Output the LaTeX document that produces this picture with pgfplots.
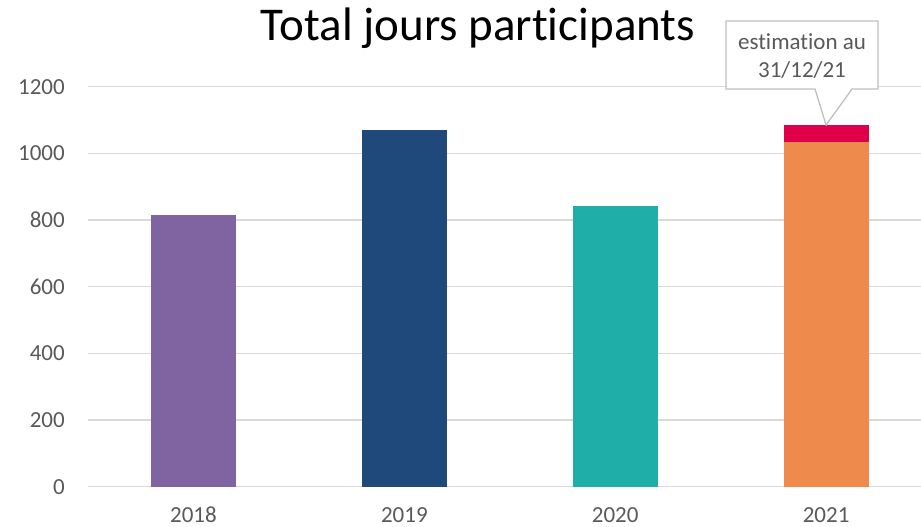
\documentclass[border=0pt]{standalone}
\usepackage{fontspec}
\setmainfont[Ligatures=NoCommon]{Carlito}
\usepackage{pgfplots}
\pgfplotsset{compat=1.18}
\definecolor{cpurple}{HTML}{8064A2}
\definecolor{cnavy}{HTML}{1F497B}
\definecolor{cteal}{HTML}{20AEA8}
\definecolor{corange}{HTML}{EF8A4D}
\definecolor{cred}{HTML}{E0004A}
\definecolor{cgrid}{HTML}{D9D9D9}
\definecolor{ctext}{HTML}{595959}
\definecolor{cbox}{HTML}{BFBFBF}
\begin{document}
\begin{tikzpicture}[x=1bp,y=1bp]
\path[use as bounding box] (0,0) rectangle (921,527);
\node[anchor=base, font=\fontsize{47bp}{51bp}\selectfont, text=black] at (478,486) {Total jours participants};
\begin{axis}[
  at={(88bp,40.3bp)}, anchor=south west,
  scale only axis,
  width=833bp, height=400bp,
  xmin=-0.5, xmax=3.45,
  ymin=0, ymax=1200,
  ytick={0,200,...,1200},
  xtick={0,1,2,3},
  xticklabels={2018,2019,2020,2021},
  ymajorgrids,
  grid style={cgrid, line width=1.3bp},
  axis line style={draw=none},
  major tick length=0pt,
  tick label style={font=\fontsize{23bp}{27bp}\selectfont, text=ctext, inner sep=0pt},
  /pgf/number format/assume math mode=true,
  /pgf/number format/1000 sep={},
  yticklabel style={anchor=east, xshift=-23bp},
  xticklabel style={anchor=base, yshift=-36bp},
  ybar, bar width=85bp, bar shift=0pt,
  clip=false,
]
\addplot[fill=cpurple, draw=none] coordinates {(0,815)};
\addplot[fill=cnavy, draw=none] coordinates {(1,1070)};
\addplot[fill=cteal, draw=none] coordinates {(2,842)};
% estimation totale 2021, puis valeur au 31/12/21 par-dessus
\addplot[fill=cred, draw=none] coordinates {(3,1085)};
\addplot[fill=corange, draw=none] coordinates {(3,1035)};
\coordinate (tip) at (axis cs:3,1085);
\end{axis}
\draw[cbox, fill=white, line width=1.3bp, line join=miter]
  (726,438) -- (815,438) -- (tip) -- (852,438) -- (878,438) -- (878,506) -- (726,506) -- cycle;
\node[anchor=base, text=ctext, font=\fontsize{23bp}{27bp}\selectfont, inner sep=0pt] at (802,477) {estimation au};
\node[anchor=base, text=ctext, font=\fontsize{23bp}{27bp}\selectfont, inner sep=0pt] at (802,449) {31/12/21};
\end{tikzpicture}
\end{document}
